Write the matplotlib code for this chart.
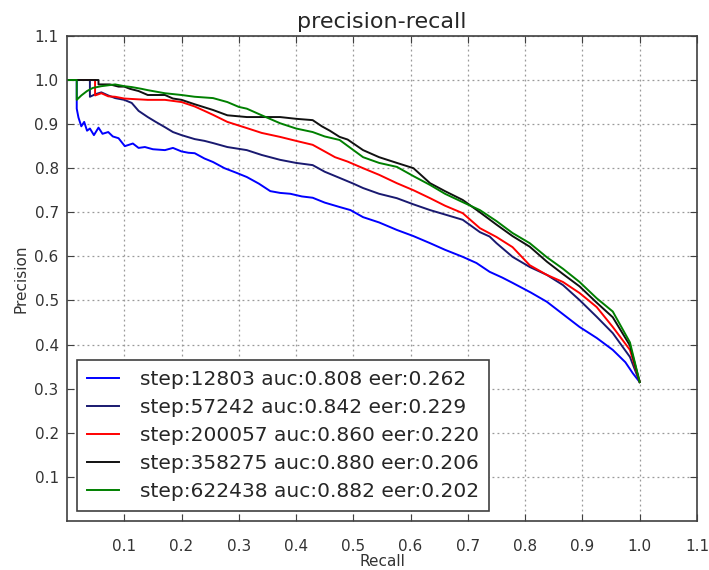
import matplotlib
matplotlib.use("Agg")
import matplotlib.pyplot as plt

TITLE = "precision-recall"
OUT_FILE = "out.png"

labels = [
    "step:12803 auc:0.808 eer:0.262",
    "step:57242 auc:0.842 eer:0.229",
    "step:200057 auc:0.860 eer:0.220",
    "step:358275 auc:0.880 eer:0.206",
    "step:622438 auc:0.882 eer:0.202",
]
colors = ["#0000ff", "#191970", "#ff0000", "#111111", "#008000"]

# (recall, precision) points
step12803 = [(0, 1.0), (0.017, 1.0), (0.017, 0.935), (0.02, 0.915), (0.025, 0.895), (0.03, 0.905),
             (0.035, 0.885), (0.04, 0.89), (0.047, 0.875), (0.055, 0.892), (0.062, 0.878), (0.072, 0.882),
             (0.08, 0.872), (0.09, 0.868), (0.101, 0.85), (0.115, 0.856), (0.125, 0.846), (0.136, 0.848),
             (0.15, 0.843), (0.171, 0.841), (0.185, 0.846), (0.2, 0.838), (0.212, 0.835), (0.223, 0.834),
             (0.24, 0.822), (0.255, 0.814), (0.275, 0.8), (0.295, 0.79), (0.314, 0.78), (0.335, 0.765),
             (0.355, 0.748), (0.372, 0.744), (0.39, 0.742), (0.41, 0.736), (0.429, 0.733), (0.45, 0.722),
             (0.476, 0.712), (0.495, 0.705), (0.517, 0.689), (0.545, 0.677), (0.576, 0.66), (0.605, 0.646),
             (0.634, 0.63), (0.66, 0.615), (0.691, 0.599), (0.715, 0.585), (0.738, 0.565), (0.76, 0.552),
             (0.778, 0.54), (0.81, 0.518), (0.838, 0.497), (0.865, 0.47), (0.895, 0.44), (0.925, 0.415),
             (0.953, 0.388), (0.975, 0.36), (0.988, 0.335), (1.0, 0.315)]
step57242 = [(0, 1.0), (0.04, 1.0), (0.04, 0.962), (0.05, 0.968), (0.06, 0.972), (0.072, 0.965),
             (0.084, 0.959), (0.1, 0.955), (0.113, 0.948), (0.125, 0.93), (0.141, 0.916), (0.155, 0.905),
             (0.171, 0.893), (0.185, 0.882), (0.2, 0.875), (0.223, 0.866), (0.24, 0.862), (0.255, 0.857),
             (0.28, 0.848), (0.314, 0.841), (0.34, 0.83), (0.372, 0.819), (0.4, 0.812), (0.429, 0.807),
             (0.45, 0.792), (0.476, 0.778), (0.5, 0.765), (0.517, 0.755), (0.545, 0.742), (0.576, 0.732),
             (0.605, 0.718), (0.634, 0.705), (0.66, 0.695), (0.691, 0.683), (0.705, 0.67), (0.721, 0.655),
             (0.738, 0.645), (0.75, 0.63), (0.778, 0.599), (0.808, 0.576), (0.838, 0.558), (0.866, 0.535),
             (0.895, 0.501), (0.925, 0.463), (0.953, 0.426), (0.983, 0.372), (1.0, 0.315)]
step200057 = [(0, 1.0), (0.049, 1.0), (0.049, 0.965), (0.06, 0.97), (0.072, 0.963), (0.084, 0.962),
              (0.1, 0.958), (0.113, 0.957), (0.141, 0.955), (0.171, 0.955), (0.2, 0.95), (0.223, 0.94),
              (0.24, 0.93), (0.255, 0.921), (0.28, 0.905), (0.314, 0.891), (0.34, 0.88), (0.372, 0.871),
              (0.4, 0.862), (0.429, 0.853), (0.45, 0.838), (0.468, 0.825), (0.49, 0.815), (0.517, 0.8),
              (0.545, 0.785), (0.576, 0.766), (0.605, 0.75), (0.634, 0.732), (0.66, 0.715), (0.691, 0.698),
              (0.721, 0.664), (0.75, 0.644), (0.778, 0.621), (0.808, 0.58), (0.838, 0.558), (0.866, 0.542),
              (0.895, 0.517), (0.925, 0.485), (0.953, 0.44), (0.983, 0.388), (1.0, 0.315)]
step358275 = [(0, 1.0), (0.055, 1.0), (0.055, 0.99), (0.075, 0.99), (0.09, 0.985), (0.1, 0.985),
              (0.11, 0.98), (0.125, 0.975), (0.141, 0.966), (0.171, 0.966), (0.185, 0.958), (0.2, 0.955),
              (0.223, 0.945), (0.255, 0.932), (0.28, 0.92), (0.314, 0.916), (0.372, 0.916), (0.4, 0.912),
              (0.429, 0.909), (0.445, 0.895), (0.459, 0.885), (0.476, 0.871), (0.49, 0.865), (0.517, 0.841),
              (0.545, 0.825), (0.576, 0.812), (0.605, 0.8), (0.634, 0.766), (0.66, 0.748), (0.691, 0.728),
              (0.721, 0.7), (0.75, 0.672), (0.778, 0.646), (0.808, 0.622), (0.838, 0.588), (0.866, 0.56),
              (0.895, 0.532), (0.925, 0.495), (0.953, 0.462), (0.983, 0.398), (1.0, 0.315)]
step622438 = [(0, 1.0), (0.017, 1.0), (0.017, 0.955), (0.025, 0.965), (0.035, 0.975), (0.045, 0.982),
              (0.06, 0.986), (0.084, 0.99), (0.1, 0.986), (0.113, 0.984), (0.13, 0.98), (0.141, 0.977),
              (0.171, 0.97), (0.2, 0.966), (0.223, 0.962), (0.255, 0.959), (0.28, 0.95), (0.3, 0.939),
              (0.314, 0.935), (0.34, 0.92), (0.372, 0.902), (0.4, 0.89), (0.429, 0.882), (0.45, 0.872),
              (0.476, 0.864), (0.517, 0.825), (0.545, 0.812), (0.576, 0.803), (0.605, 0.782), (0.634, 0.762),
              (0.66, 0.742), (0.691, 0.723), (0.721, 0.705), (0.75, 0.68), (0.778, 0.653), (0.808, 0.63),
              (0.838, 0.598), (0.866, 0.572), (0.895, 0.542), (0.925, 0.505), (0.953, 0.475), (0.983, 0.405),
              (1.0, 0.315)]

curves = [step12803, step57242, step200057, step358275, step622438]
ticks = [0.1, 0.2, 0.3, 0.4, 0.5, 0.6, 0.7, 0.8, 0.9, 1.0, 1.1]


def main():
    fig = plt.figure(figsize=(7.09, 5.70), dpi=100)
    ax = fig.add_subplot(111)
    fig.subplots_adjust(left=0.0945, right=0.983, bottom=0.086, top=0.937)

    for pts, lab, col in zip(curves, labels, colors):
        r = [p[0] for p in pts]
        pr = [p[1] for p in pts]
        ax.plot(r, pr, color=col, lw=1.4, label=lab)

    ax.set_xlim(0, 1.1)
    ax.set_ylim(0, 1.1)
    ax.set_xticks(ticks)
    ax.set_yticks(ticks)
    ax.set_xticklabels([f"{t:.1f}" for t in ticks])
    ax.set_yticklabels([f"{t:.1f}" for t in ticks])
    ax.tick_params(direction="in", top=True, right=True, length=5, labelsize=11,
                   colors="0.25", labelcolor="0.2", pad=6)
    ax.tick_params(axis="x", pad=13)
    ax.grid(True, color="0.6", ls=(0, (1.5, 2.5)), lw=0.9)
    for s in ax.spines.values():
        s.set_color("0.25")
        s.set_linewidth(1.2)

    ax.set_title(TITLE, fontsize=16, color="0.15", pad=6)
    ax.set_xlabel("Recall", fontsize=11, color="0.2", labelpad=0)
    ax.set_ylabel("Precision", fontsize=11, color="0.2", labelpad=4)

    leg = ax.legend(loc="lower left", fontsize=14.5, handlelength=1.6, handletextpad=1.0,
                    fancybox=False, framealpha=1, borderaxespad=0.5, labelspacing=0.45,
                    borderpad=0.5)
    leg.get_frame().set_edgecolor("0.25")
    leg.get_frame().set_linewidth(1.2)
    for t in leg.get_texts():
        t.set_color("0.15")

    fig.savefig(OUT_FILE, dpi=100)
    print(f"saved {OUT_FILE}")


if __name__ == "__main__":
    main()
